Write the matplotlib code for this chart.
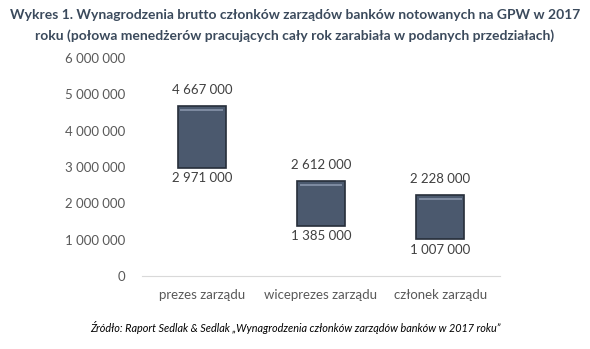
import matplotlib.pyplot as plt

categories = ["prezes zarządu", "wiceprezes zarządu", "członek zarządu"]
low = [2971000, 1385000, 1007000]
high = [4667000, 2612000, 2228000]
yticks = [0, 1000000, 2000000, 3000000, 4000000, 5000000, 6000000]

plt.rcParams['font.family'] = ['Lato', 'DejaVu Sans']


def fmt(v):
    return f"{v:,}".replace(",", " ")


fig = plt.figure(figsize=(5.9, 3.49), dpi=100)
ax = fig.add_axes([0.241, 0.209, 0.606, 0.625])

x = list(range(len(categories)))
heights = [h - l for h, l in zip(high, low)]
ax.bar(x, heights, bottom=low, width=0.4, color="#4b596e",
       edgecolor="#262e3a", linewidth=1.2, zorder=3)
# light bevel highlight along the top of each bar
ax.bar(x, [70000] * len(x), bottom=[h - 140000 for h in high],
       width=0.36, color="#7d8aa0", linewidth=0, zorder=4)

for xi, l, h in zip(x, low, high):
    ax.text(xi, h + 280000, fmt(h), ha="center", va="bottom",
            fontsize=9.5, color="#404040")
    ax.text(xi, l - 120000, fmt(l), ha="center", va="top",
            fontsize=9.5, color="#404040")

ax.set_xlim(-0.5, 2.5)
ax.set_ylim(0, 6000000)
ax.set_yticks(yticks)
ax.set_yticklabels([fmt(v) for v in yticks])
ax.set_xticks(x)
ax.set_xticklabels(categories)
ax.tick_params(axis="both", length=0, labelsize=9.5, colors="#595959")
ax.tick_params(axis="y", pad=12)
ax.tick_params(axis="x", pad=9)
for s in ["top", "right", "left"]:
    ax.spines[s].set_visible(False)
ax.spines["bottom"].set_color("#d9d9d9")

fig.text(0.5, 0.958, "Wykres 1. Wynagrodzenia brutto członków zarządów banków notowanych na GPW w 2017",
         ha="center", va="center", fontsize=10, fontweight="bold", color="#3b4a5c")
fig.text(0.5, 0.898, "roku (połowa menedżerów pracujących cały rok zarabiała w podanych przedziałach)",
         ha="center", va="center", fontsize=10, fontweight="bold", color="#3b4a5c")
fig.text(0.5, 0.063, "Źródło: Raport Sedlak & Sedlak „Wynagrodzenia członków zarządów banków w 2017 roku”",
         ha="center", va="center", fontsize=7.8, style="italic", color="#000000")

fig.savefig("out.png", dpi=100)
